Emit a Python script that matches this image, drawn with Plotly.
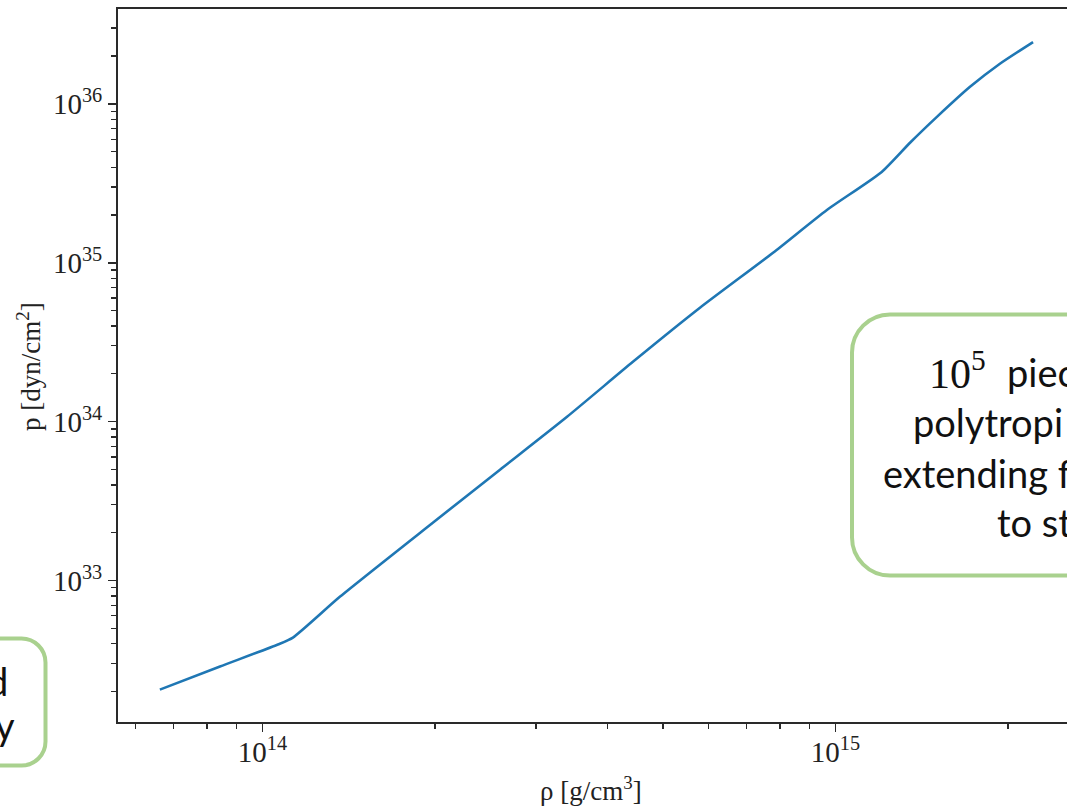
import plotly.graph_objects as go

# ---- data (log-log EoS curve) ----
rho = [6.62e13, 8.43e13, 1.064e14, 1.13e14, 1.366e14, 1.985e14, 2.597e14, 3.40e14,
       4.43e14, 5.80e14, 7.78e14, 9.66e14, 1.204e15, 1.349e15, 1.503e15, 1.717e15,
       1.936e15, 2.212e15]
pressure = [2.06e32, 2.88e32, 3.96e32, 4.38e32, 7.93e32, 2.32e33, 4.99e33, 1.074e34,
            2.38e34, 5.21e34, 1.156e35, 2.15e35, 3.73e35, 5.69e35, 8.28e35, 1.28e36,
            1.79e36, 2.45e36]

x_tickvals = [1e14, 1e15]
x_ticktext = ["10<sup>14</sup>", "10<sup>15</sup>"]
y_tickvals = [1e33, 1e34, 1e35, 1e36]
y_ticktext = ["10<sup>33</sup>", "10<sup>34</sup>", "10<sup>35</sup>", "10<sup>36</sup>"]

x_title = "ρ [g/cm<sup>3</sup>]"
y_title = "p [dyn/cm<sup>2</sup>]"

box2_lines = ["piec", "polytropi", "extending f", "to st"]
box2_power = "10<sup>5</sup>"
box1_lines = ["d", "y"]

# ---- layout geometry (screen pixels; body margin removed in post_script) ----
W, H = 1067, 806
L, T, B = 118, 9, 722
PW, PH = W - L, B - T

def px(x):
    return (x - L) / PW

def py(y):
    return (B - y) / PH

def rrect(x0, y0, x1, y1, r):
    k = 0.5523 * r
    pts = [
        f"M {px(x0 + r)},{py(y0)}",
        f"L {px(x1 - r)},{py(y0)}",
        f"C {px(x1 - r + k)},{py(y0)} {px(x1)},{py(y0 + r - k)} {px(x1)},{py(y0 + r)}",
        f"L {px(x1)},{py(y1 - r)}",
        f"C {px(x1)},{py(y1 - r + k)} {px(x1 - r + k)},{py(y1)} {px(x1 - r)},{py(y1)}",
        f"L {px(x0 + r)},{py(y1)}",
        f"C {px(x0 + r - k)},{py(y1)} {px(x0)},{py(y1 - r + k)} {px(x0)},{py(y1 - r)}",
        f"L {px(x0)},{py(y0 + r)}",
        f"C {px(x0)},{py(y0 + r - k)} {px(x0 + r - k)},{py(y0)} {px(x0 + r)},{py(y0)}",
        "Z",
    ]
    return " ".join(pts)

def minor_vals(lo, hi):
    vals = []
    for e in range(lo, hi + 1):
        for m in range(2, 10):
            vals.append(m * 10.0 ** e)
    return vals

fig = go.Figure()
fig.add_trace(go.Scatter(x=rho, y=pressure, mode="lines",
                         line=dict(color="#1f77b4", width=2.6, shape="spline", smoothing=0.6),
                         hoverinfo="skip"))

serif = "Liberation Serif"
tickfont = dict(family=serif, size=29, color="#222222")
axis_common = dict(
    type="log", showgrid=False, zeroline=False, showline=True,
    linecolor="#2a2a2a", linewidth=2, ticks="outside", ticklen=8, tickwidth=1.5,
    tickcolor="#2a2a2a", tickfont=tickfont,
)

fig.update_xaxes(
    **axis_common, range=[13.7478, 15.404], mirror=True,
    tickvals=x_tickvals, ticktext=x_ticktext, ticklabelstandoff=-5,
    minor=dict(tickvals=minor_vals(13, 15), ticks="outside", ticklen=5,
               tickwidth=1.2, tickcolor="#2a2a2a", showgrid=False),
)
fig.update_yaxes(
    **axis_common, range=[32.110, 36.597], mirror=False,
    tickvals=y_tickvals, ticktext=y_ticktext, ticklabelstandoff=0,
    minor=dict(tickvals=minor_vals(32, 36), ticks="outside", ticklen=5,
               tickwidth=1.2, tickcolor="#2a2a2a", showgrid=False),
)

green = "#a9d18e"
shapes = [
    dict(type="path", xref="paper", yref="paper", path=rrect(-60, 638.5, 45.5, 765.5, 24),
         line=dict(color=green, width=4), fillcolor="rgba(0,0,0,0)", layer="above"),
    dict(type="path", xref="paper", yref="paper", path=rrect(852, 314.5, 1130, 575.5, 38),
         line=dict(color=green, width=4), fillcolor="rgba(0,0,0,0)", layer="above"),
]

sans = "Lato"
annotations = []
# axis titles
annotations.append(dict(text=x_title, xref="paper", yref="paper", x=px(591), y=py(789),
                        showarrow=False, xanchor="center", yanchor="middle",
                        font=dict(family=serif, size=27, color="#222222")))
annotations.append(dict(text=y_title, xref="paper", yref="paper", x=px(29), y=py(367),
                        showarrow=False, xanchor="center", yanchor="middle", textangle=-90,
                        font=dict(family=serif, size=27, color="#222222")))

# right box text
fs2 = 38
def base_to_mid(b, s):
    return b - 0.30 * s

annotations.append(dict(text=box2_power, xref="paper", yref="paper", x=px(927), y=py(base_to_mid(383, 42)),
                        showarrow=False, xanchor="left", yanchor="middle",
                        font=dict(family=serif, size=42, color="#111111")))
starts = [1005, 911, 881, 995]
bases = [383, 433, 484, 533]
for t, xs, b in zip(box2_lines, starts, bases):
    annotations.append(dict(text=t, xref="paper", yref="paper", x=px(xs), y=py(base_to_mid(b, fs2)),
                            showarrow=False, xanchor="left", yanchor="middle",
                            font=dict(family=sans, size=fs2, color="#111111", weight=400)))

# left box text (right-aligned fragments)
ends = [10, 17]
bases1 = [692, 736]
for t, xe, b in zip(box1_lines, ends, bases1):
    annotations.append(dict(text=t, xref="paper", yref="paper", x=px(xe), y=py(base_to_mid(b, fs2)),
                            showarrow=False, xanchor="right", yanchor="middle",
                            font=dict(family=sans, size=fs2, color="#111111", weight=400)))

fig.update_layout(
    width=W, height=H, margin=dict(l=L, r=0, t=T, b=H - B, pad=0),
    paper_bgcolor="white", plot_bgcolor="white", showlegend=False,
    shapes=shapes, annotations=annotations,
)

fig.write_html("out.html", config={"displayModeBar": False, "staticPlot": True},
               post_script="document.body.style.margin='0';document.body.style.overflow='hidden';")
